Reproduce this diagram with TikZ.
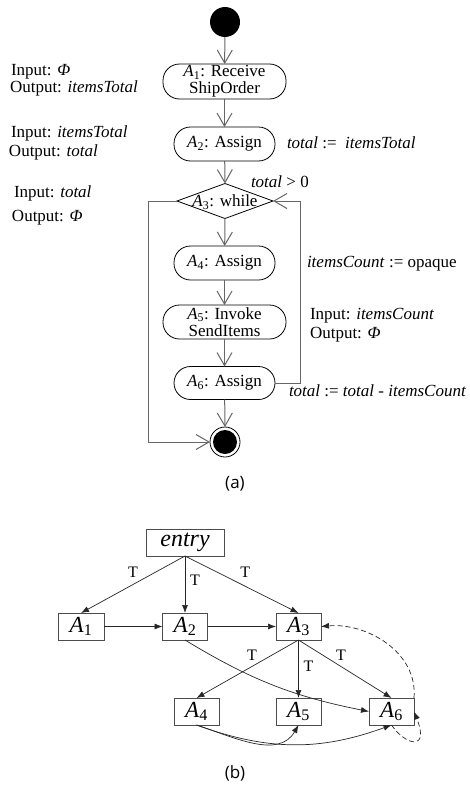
\documentclass[tikz,border=0pt]{standalone}
\usepackage{fontspec}
\setmainfont{Liberation Serif}
\newfontfamily\capfont{Open Sans}
\usetikzlibrary{arrows.meta,shapes.geometric}
\newcommand\act[1]{\textit{A}\textsubscript{#1}}

\begin{document}
\begin{tikzpicture}[x=1pt,y=-1pt,
  every node/.style={inner sep=0pt, outer sep=0pt},
  flowline/.style={draw=black!60, line width=1pt},
  flowarrow/.style={flowline, -{Straight Barb[length=13pt,width=15pt,line width=1pt]}},
  actbox/.style={draw, line width=0.8pt, rounded corners=16.5pt, minimum height=34pt,
    font=\fontsize{17}{17}\selectfont, align=center},
  decision/.style={diamond, draw, line width=0.8pt, aspect=2.74,
    minimum width=96pt, minimum height=35pt},
  note/.style={anchor=base west, font=\fontsize{17}{20}\selectfont},
  caption/.style={font=\capfont\fontsize{17}{20}\selectfont},
  cfgbox/.style={draw=black!70, line width=0.8pt, minimum width=45pt, minimum height=27pt,
    font=\fontsize{23}{23}\selectfont},
  cfgarrow/.style={draw=black!85, line width=0.7pt, -{Latex[length=8pt,width=6pt]}},
  cfgback/.style={cfgarrow, dashed, dash pattern=on 5pt off 3pt},
  tlabel/.style={font=\fontsize{16}{16}\selectfont}
]
\useasboundingbox (0,0) rectangle (470,787);

% ---------------- (a) activity diagram ----------------
\node[circle, fill=black, minimum size=30pt] (start) at (225,22) {};
\node[actbox, minimum width=123pt, minimum height=35pt] (a1) at (224.5,81.5) {\act{1}: Receive\\ShipOrder};
\node[actbox, minimum width=101pt] (a2) at (224.5,144) {\act{2}: Assign};
\node[decision] (a3) at (225,201) {};
\node[font=\fontsize{17}{17}\selectfont] (a3text) at (225,202) {\act{3}: while};
\node[actbox, minimum width=101pt] (a4) at (224.5,263) {\act{4}: Assign};
\node[actbox, minimum width=123pt] (a5) at (224.5,322) {\act{5}: Invoke\\SendItems};
\node[actbox, minimum width=101pt, minimum height=33pt] (a6) at (224.5,383) {\act{6}: Assign};
\node[circle, draw, line width=0.8pt, minimum size=30pt] (fin) at (225,442) {};
\node[circle, fill=black, minimum size=24pt] (fincore) at (fin) {};

\coordinate (leftrail) at (148,0);
\coordinate (rightrail) at (300,0);

\draw[flowarrow] (start) -- (a1);
\draw[flowarrow] (a1) -- (a2);
\draw[flowarrow] (a2) -- (a3.north);
\draw[flowarrow] (a3.south) -- (a4);
\draw[flowarrow] (a4) -- (a5);
\draw[flowarrow] (a5) -- (a6);
\draw[flowarrow] (a6) -- (fin.north);
\draw[flowarrow] (a3.west) -| (leftrail |- fin.west) -- (fin.west);
\draw[flowarrow] (a6.east) -| (rightrail |- a3.east) -- (a3.east);

\node[note] (in1)  at (11,75)  {Input: \textit{Φ}};
\node[note] (out1) at (10,92)  {Output: \textit{itemsTotal}};
\node[note] (in2)  at (11,137) {Input: \textit{itemsTotal}};
\node[note] (out2) at (9,156)  {Output: \textit{total}};
\node[note] (in3)  at (14,197) {Input: \textit{total}};
\node[note] (out3) at (12,221) {Output: \textit{Φ}};
\node[note] (guard) at (251,187) {\textit{total} > 0};
\node[note] (asg2) at (287,148) {\textit{total} :=\ \ \textit{itemsTotal}};
\node[note] (asg4) at (307,267) {\textit{itemsCount} := opaque};
\node[note] (in5)  at (310,319) {Input: \textit{itemsCount}};
\node[note] (out5) at (310,338) {Output: \textit{Φ}};
\node[note] (asg6) at (289,396) {\textit{total} := \textit{total} - \textit{itemsCount}};
\node[caption] (capa) at (235,484) {(a)};

% ---------------- (b) control flow graph ----------------
\node[cfgbox, minimum width=78pt, font=\fontsize{24}{24}\selectfont\itshape] (entry) at (185,542.5) {entry};
\node[cfgbox, minimum width=46pt] (b1) at (81,626.5) {\act{1}};
\node[cfgbox] (b2) at (185,626.5) {\act{2}};
\node[cfgbox] (b3) at (298.5,626.5) {\act{3}};
\node[cfgbox] (b4) at (196.5,711.5) {\act{4}};
\node[cfgbox] (b5) at (298.5,711.5) {\act{5}};
\node[cfgbox] (b6) at (391.5,711.5) {\act{6}};

\draw[cfgarrow] (entry.south) -- node[tlabel, pos=0.5, yshift=12pt] (t1) {T} (b1.north);
\draw[cfgarrow] (entry.south) -- node[tlabel, pos=0.42, xshift=10pt] (t2) {T} (b2.north);
\draw[cfgarrow] (entry.south) -- node[tlabel, pos=0.53, yshift=14pt] (t3) {T} (b3.north);
\draw[cfgarrow] (b1.east) -- (b2.west);
\draw[cfgarrow] (b2.east) -- (b3.west);
\draw[cfgarrow] (b2.south) to[bend right=10] (b6.west);
\draw[cfgarrow] (b3.south) -- node[tlabel, pos=0.456, yshift=11pt] (t4) {T} (b4.north);
\draw[cfgarrow] (b3.south) -- node[tlabel, pos=0.45, xshift=10pt] (t5) {T} (b5.north);
\draw[cfgarrow] (b3.south) -- node[tlabel, pos=0.457, yshift=11pt] (t6) {T} (b6.north);
\draw[cfgarrow] (b4.south) to[out=-18, in=-120] (b5.south);
\draw[cfgarrow] (b4.south) to[out=-20, in=-160] (b6.south);
\draw[cfgback] (b6.north east) to[out=85, in=5] (b3.east);
\draw[cfgback] (b6.south) .. controls (405,745) and (430,752) .. (b6.east);
\node[caption] (capb) at (235,773) {(b)};
\end{tikzpicture}
\end{document}
